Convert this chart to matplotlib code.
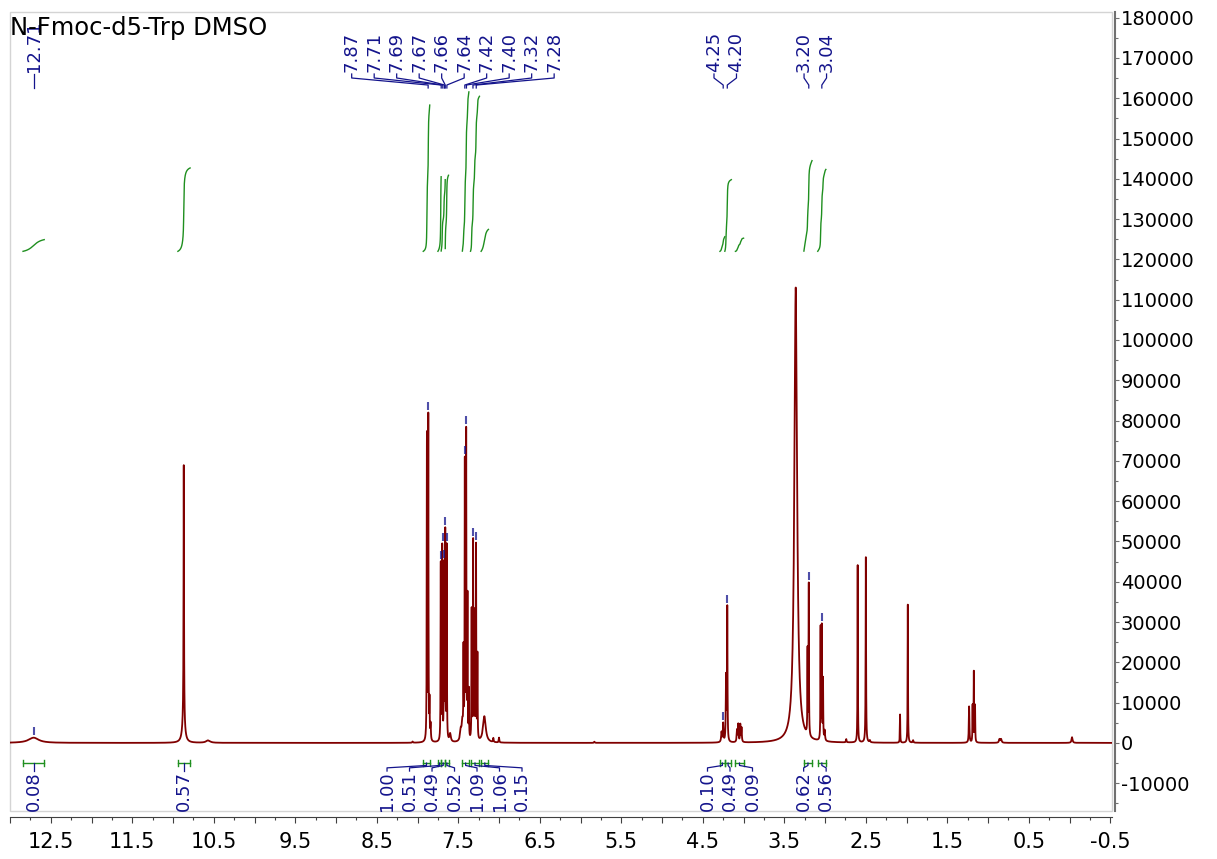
import matplotlib
matplotlib.use("Agg")
import matplotlib.pyplot as plt
import numpy as np
from matplotlib.patches import Rectangle
from matplotlib.ticker import FixedLocator, FuncFormatter, MultipleLocator

plt.rcParams["font.family"] = ["DejaVu Sans"]
plt.rcParams["axes.unicode_minus"] = False

TITLE = "N-Fmoc-d5-Trp DMSO"

# 1H lines: shift (ppm), height, FWHM (ppm)
peak_ppm = [12.71, 10.868, 10.87, 10.57, 8.06,
            7.885, 7.868, 7.853, 7.84, 7.715, 7.697, 7.675, 7.66, 7.642, 7.60,
            7.47, 7.45, 7.436, 7.42, 7.403, 7.387, 7.37,
            7.336, 7.318, 7.30, 7.282, 7.265, 7.18, 7.07, 7.00, 5.83,
            4.27, 4.25, 4.215, 4.20, 4.08, 4.065, 4.04, 4.025,
            3.36, 3.215, 3.20, 3.055, 3.04, 3.025, 3.005,
            2.74, 2.60, 2.50, 2.45, 2.08, 1.985, 1.92,
            1.233, 1.19, 1.175, 1.16, 0.86, 0.84, -0.03]
peak_height = [1300, 63000, 6000, 600, 300,
               76000, 80000, 9000, 4000, 44000, 48000, 43000, 51000, 48000, 2000,
               2500, 4500, 21000, 68000, 76000, 35000, 12000,
               32000, 49000, 31000, 48000, 21000, 6500, 1000, 1200, 300,
               2500, 4500, 16000, 33000, 3000, 4300, 4300, 3500,
               113000, 21000, 37500, 28000, 28000, 15000, 2500,
               800, 44000, 46000, 500, 7000, 34500, 600,
               9000, 9000, 17500, 9000, 900, 900, 1400]
peak_width = [0.15, 0.006, 0.035, 0.06, 0.01,
              0.005, 0.005, 0.005, 0.008, 0.005, 0.005, 0.005, 0.005, 0.005, 0.02,
              0.02, 0.02, 0.005, 0.005, 0.005, 0.005, 0.005,
              0.005, 0.005, 0.005, 0.005, 0.005, 0.04, 0.008, 0.008, 0.01,
              0.012, 0.008, 0.008, 0.006, 0.01, 0.008, 0.008, 0.008,
              0.04, 0.005, 0.005, 0.005, 0.005, 0.005, 0.01,
              0.008, 0.005, 0.006, 0.01, 0.005, 0.005, 0.01,
              0.008, 0.005, 0.005, 0.005, 0.015, 0.015, 0.015]

# picked peaks, one list per label group
peak_label_groups = [[12.71],
                     [7.87, 7.71, 7.69, 7.67, 7.66, 7.64, 7.42, 7.40, 7.32, 7.28],
                     [4.25, 4.20],
                     [3.20, 3.04]]

# integration regions
int_start = [12.84, 10.94, 7.93, 7.75, 7.71, 7.66, 7.45, 7.35, 7.22, 4.29, 4.23, 4.10, 3.26, 3.09]
int_end = [12.58, 10.79, 7.85, 7.71, 7.66, 7.62, 7.37, 7.24, 7.13, 4.23, 4.15, 4.00, 3.16, 2.99]
int_value = [0.08, 0.57, 1.00, 0.51, 0.49, 0.52, 1.09, 1.06, 0.15, 0.10, 0.49, 0.09, 0.62, 0.56]
int_group = [0, 1, 2, 2, 2, 2, 2, 2, 2, 3, 3, 3, 4, 4]

INT_BASE = 122000
INT_SCALE = 36300
LABEL_STEP = 0.276  # ppm between neighbouring labels

RED = "#800000"
GREEN = "#1f8f1f"
NAVY = "#14148c"


def spectrum(x):
    y = np.zeros_like(x)
    for p, h, w in zip(peak_ppm, peak_height, peak_width):
        y += h / (1.0 + ((x - p) / (w / 2.0)) ** 2)
    return y


def spread(centres):
    c = np.mean(centres)
    n = len(centres)
    return [c + LABEL_STEP * ((n - 1) / 2.0 - i) for i in range(n)]


def main() -> None:
    x = np.arange(-0.6, 13.1, 0.0004)
    y = spectrum(x)

    fig = plt.figure(figsize=(12.17, 8.59), dpi=100)
    ax = fig.add_axes([10 / 1217, 48 / 859, 1102 / 1217, 799 / 859])
    ax.set_xlim(13.0, -0.52)
    ax.set_ylim(-16900, 181400)

    ax.plot(x, y, color=RED, lw=1.3)

    xt = ax.get_xaxis_transform()

    # integral curves and brackets
    for s, e, v in zip(int_start, int_end, int_value):
        m = (x <= s) & (x >= e)
        xs = x[m][::-1]
        cum = np.cumsum(y[m][::-1])
        ax.plot(xs, INT_BASE + v * INT_SCALE * cum / cum[-1], color=GREEN, lw=1.0)
        ax.plot([s, e], [0.060, 0.060], transform=xt, color=GREEN, lw=1.0)
        ax.plot([s, s], [0.056, 0.064], transform=xt, color=GREEN, lw=1.0)
        ax.plot([e, e], [0.056, 0.064], transform=xt, color=GREEN, lw=1.0)

    for g in sorted(set(int_group)):
        idx = [i for i, k in enumerate(int_group) if k == g]
        centres = [(int_start[i] + int_end[i]) / 2 for i in idx]
        lx = spread(centres) if len(idx) > 1 else centres
        for i, c, l in zip(idx, centres, lx):
            ax.text(l, 0.0, f"{int_value[i]:.2f}", transform=xt, rotation=90,
                    ha="center", va="bottom", fontsize=13, color=NAVY)
            ax.plot([l, l, c, c], [0.050, 0.054, 0.057, 0.060], transform=xt,
                    color=NAVY, lw=0.9)

    # peak picking labels
    for group in peak_label_groups:
        lx = spread(group) if len(group) > 1 else group
        for p, l in zip(group, lx):
            ax.text(l, 0.925, f"{p:.2f}", transform=xt, rotation=90,
                    ha="center", va="bottom", fontsize=13, color=NAVY)
            ax.plot([l, l, p, p], [0.9224, 0.9174, 0.9086, 0.9049], transform=xt,
                    color=NAVY, lw=0.9)
            win = (x > p - 0.008) & (x < p + 0.008)
            top = y[win].max()
            ax.vlines(p, top + 600, top + 2600, color=NAVY, lw=1.5, alpha=0.75)

    # axes styling
    for side in ("left", "top"):
        ax.spines[side].set_visible(False)
    ax.spines["bottom"].set_position(("outward", 4.3))
    ax.spines["right"].set_position(("outward", 2.2))
    ax.spines["bottom"].set_color("#404040")
    ax.spines["right"].set_color("#707070")
    ax.spines["right"].set_linewidth(1.5)
    ax.add_patch(Rectangle((0, 0), 1, 1, transform=ax.transAxes, fill=False,
                           edgecolor="#d4d4d4", lw=1.0, clip_on=False))

    ax.xaxis.set_major_locator(FixedLocator(np.arange(-0.5, 13.01, 0.5)))
    ax.xaxis.set_minor_locator(MultipleLocator(0.25))
    ax.xaxis.set_major_formatter(FuncFormatter(
        lambda v, pos: f"{v:.1f}" if abs((v * 2) % 2 - 1) < 1e-6 else ""))
    ax.tick_params(axis="x", which="major", length=4.5, width=0.8, labelsize=15,
                   pad=6, color="#404040")
    ax.tick_params(axis="x", which="minor", length=2.5, width=0.8, color="#404040")

    ax.yaxis.tick_right()
    ax.yaxis.set_major_locator(MultipleLocator(10000))
    ax.yaxis.set_minor_locator(MultipleLocator(5000))
    ax.yaxis.set_major_formatter(FuncFormatter(lambda v, pos: f"{int(round(v))}"))
    ax.tick_params(axis="y", which="major", length=3, width=0.8, labelsize=14,
                   pad=1, color="#707070")
    ax.tick_params(axis="y", which="minor", length=2, width=0.8, color="#707070")

    fig.text(10 / 1217, (859 - 35) / 859, TITLE, fontsize=17.5, ha="left", va="baseline")

    fig.savefig("out.png", dpi=100)


if __name__ == "__main__":
    main()
